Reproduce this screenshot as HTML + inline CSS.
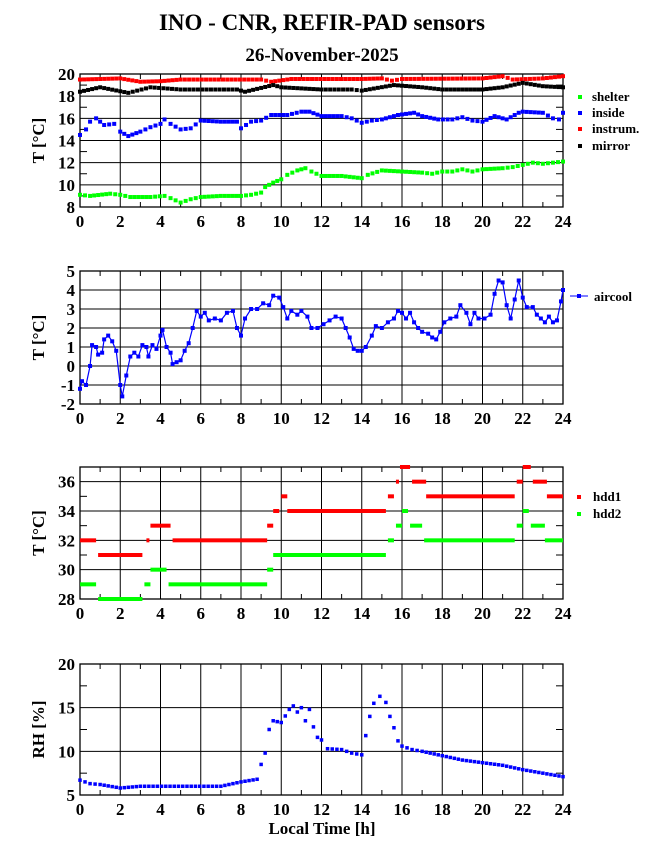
<!DOCTYPE html><html><head><meta charset="utf-8"><style>body{margin:0;background:#fff}svg text{font-family:"Liberation Serif","DejaVu Serif",serif;font-weight:bold}</style></head><body>
<svg id="s" width="655" height="860" xmlns="http://www.w3.org/2000/svg">
<text x="322" y="30" font-size="23" text-anchor="middle">INO - CNR, REFIR-PAD sensors</text>
<text x="322" y="61" font-size="19" text-anchor="middle">26-November-2025</text>
</svg>
<script>
const S=document.getElementById('s');let h='';
const X0=80,X1=563,xs=t=>X0+(X1-X0)*t/24;
function panel(top,bot,ymin,ymax,step,minor,ylab,labx){
 const ys=v=>bot-(bot-top)*(v-ymin)/(ymax-ymin);
 for(let t=0;t<=24;t+=2)h+=`<line x1="${xs(t)}" y1="${top}" x2="${xs(t)}" y2="${bot}" stroke="#000" stroke-width="1"/>`;
 for(let t=1;t<24;t+=2)h+=`<line x1="${xs(t)}" y1="${bot}" x2="${xs(t)}" y2="${bot-5}" stroke="#000"/><line x1="${xs(t)}" y1="${top}" x2="${xs(t)}" y2="${top+5}" stroke="#000"/>`;
 for(let v=ymin;v<=ymax+1e-9;v+=step){h+=`<line x1="${X0}" y1="${ys(v)}" x2="${X1}" y2="${ys(v)}" stroke="#000"/><text x="${X0-5}" y="${ys(v)+6}" font-size="17" text-anchor="end">${v}</text>`;}
 if(minor)for(let v=ymin+minor;v<ymax;v+=step)h+=`<line x1="${X0}" y1="${ys(v)}" x2="${X0+7}" y2="${ys(v)}" stroke="#000"/><line x1="${X1-7}" y1="${ys(v)}" x2="${X1}" y2="${ys(v)}" stroke="#000"/>`;
 h+=`<rect x="${X0}" y="${top}" width="${X1-X0}" height="${bot-top}" fill="none" stroke="#000" stroke-width="1.3"/>`;
 for(let t=0;t<=24;t+=2)h+=`<text x="${xs(t)}" y="${bot+20}" font-size="17" text-anchor="middle">${t}</text>`;
 h+=`<text transform="translate(${labx},${(top+bot)/2}) rotate(-90)" font-size="17" text-anchor="middle">${ylab}</text>`;
 return ys;
}
function interp(p,step){const o=[];for(let i=0;i<p.length-1;i++){const[a,b]=[p[i],p[i+1]];const n=Math.max(1,Math.round((b[0]-a[0])/step));for(let k=0;k<n;k++){const f=k/n;o.push([a[0]+(b[0]-a[0])*f,a[1]+(b[1]-a[1])*f]);}}o.push(p[p.length-1]);return o;}
function dots(p,ys,c,sz){p.forEach(q=>h+=`<rect x="${xs(q[0])-sz/2}" y="${ys(q[1])-sz/2}" width="${sz}" height="${sz}" fill="${c}"/>`);}
const ST=0.21;
// panel 1
let y1=panel(74,207,8,20,2,1,'T [°C]',44);
dots(interp([[0,19.5],[2,19.6],[3,19.3],[4,19.35],[5,19.5],[9,19.5],[9.5,19.3],[10.5,19.55],[14,19.55],[15,19.6],[15.5,19.4],[16,19.55],[20,19.6],[21,19.8],[21.5,19.5],[23,19.6],[24,19.8]],ST),y1,'#f00',4);
dots(interp([[0,18.4],[1,18.8],[2.4,18.3],[3.5,18.8],[5,18.6],[7.8,18.6],[8.2,18.4],[9.6,19.0],[10,18.8],[12,18.6],[13.5,18.6],[14,18.5],[15.6,19.0],[17,18.8],[18,18.6],[20,18.6],[21,18.8],[22,19.2],[23,18.9],[24,18.8]],ST),y1,'#000',4);
dots(interp([[0,14.5],[0.3,15.0],[0.5,15.7],[0.8,16.0],[1.2,15.4],[1.7,15.5],[2,14.8],[2.4,14.4],[3,14.8],[3.5,15.2],[4,15.5],[4.2,15.9],[4.5,15.5],[5,15.0],[5.5,15.1],[6,15.8],[7,15.7],[7.8,15.7],[8,15.1],[8.5,15.7],[9,15.8],[9.5,16.3],[10.3,16.3],[11,16.6],[11.4,16.6],[12,16.2],[13,16.2],[13.5,16.0],[14,15.6],[14.5,15.8],[15,15.9],[15.8,16.3],[16.6,16.5],[17,16.2],[17.8,15.9],[18.5,15.9],[19,16.1],[19.5,15.8],[20,15.7],[20.6,16.2],[21.2,15.9],[21.8,16.5],[22,16.6],[23,16.5],[23.5,16.0],[23.8,15.9],[24,16.5]],ST),y1,'#00f',4);
dots(interp([[0,9.1],[0.5,9.0],[1.5,9.2],[2,9.1],[2.5,8.9],[3.5,8.9],[4.2,9.0],[4.5,8.8],[5,8.4],[5.5,8.7],[6,8.9],[7,9.0],[8,9.0],[8.5,9.1],[9,9.3],[9.2,9.8],[9.6,10.2],[10,10.5],[10.3,10.9],[10.8,11.3],[11.2,11.5],[11.5,11.2],[12,10.8],[13,10.8],[14,10.6],[14.3,10.9],[15,11.3],[16,11.2],[17,11.1],[17.5,11.0],[18,11.2],[18.5,11.2],[19,11.4],[19.5,11.2],[20,11.4],[21,11.5],[21.5,11.6],[22,11.8],[22.5,12.0],[23,11.9],[23.5,12.0],[24,12.1]],ST),y1,'#0f0',4);
[['shelter','#0f0',100],['inside','#00f',116],['instrum.','#f00',132],['mirror','#000',149]].forEach(l=>h+=`<rect x="578" y="${l[2]-5}" width="4" height="4" fill="${l[1]}"/><text x="592" y="${l[2]+1}" font-size="13">${l[0]}</text>`);
// panel 2
let y2=panel(271,404,-2,5,1,0,'T [°C]',44);
const ac=[[0,-1.2],[0.1,-0.8],[0.3,-1],[0.5,0],[0.6,1.1],[0.8,1.0],[0.9,0.6],[1.1,0.7],[1.2,1.4],[1.4,1.6],[1.6,1.3],[1.8,0.8],[2.0,-1.0],[2.1,-1.6],[2.3,-0.5],[2.5,0.5],[2.7,0.7],[2.9,0.5],[3.1,1.1],[3.3,1.0],[3.4,0.5],[3.6,1.1],[3.8,0.9],[4.0,1.6],[4.1,1.9],[4.3,1.0],[4.5,0.7],[4.6,0.1],[4.8,0.2],[5.0,0.3],[5.2,0.8],[5.4,1.2],[5.6,2.0],[5.8,2.9],[6.0,2.6],[6.2,2.8],[6.4,2.4],[6.7,2.5],[7.0,2.4],[7.3,2.8],[7.6,2.9],[7.8,2.0],[8.0,1.6],[8.2,2.5],[8.5,3.0],[8.8,3.0],[9.1,3.3],[9.4,3.2],[9.6,3.7],[9.9,3.6],[10.1,3.1],[10.3,2.5],[10.5,2.9],[10.8,2.7],[11.0,2.9],[11.3,2.6],[11.5,2.0],[11.8,2.0],[12.1,2.2],[12.4,2.4],[12.7,2.6],[13.0,2.5],[13.2,2.0],[13.4,1.5],[13.6,0.9],[13.8,0.8],[14.0,0.8],[14.2,1.0],[14.5,1.6],[14.7,2.1],[15.0,2.0],[15.3,2.3],[15.6,2.5],[15.8,2.9],[16.0,2.8],[16.2,2.5],[16.4,2.8],[16.6,2.3],[16.8,2.0],[17.0,1.8],[17.3,1.7],[17.5,1.5],[17.7,1.4],[17.9,1.8],[18.1,2.3],[18.4,2.5],[18.7,2.6],[18.9,3.2],[19.2,2.8],[19.4,2.2],[19.6,2.8],[19.8,2.5],[20.1,2.5],[20.4,2.7],[20.6,3.8],[20.8,4.5],[21.0,4.4],[21.2,3.2],[21.4,2.5],[21.6,3.5],[21.8,4.5],[22.0,3.6],[22.2,3.1],[22.5,3.1],[22.7,2.7],[22.9,2.5],[23.1,2.3],[23.3,2.6],[23.5,2.3],[23.7,2.4],[23.9,3.4],[24,4.0]];
h+=`<polyline fill="none" stroke="#00f" stroke-width="1.2" points="${ac.map(q=>xs(q[0])+','+y2(q[1])).join(' ')}"/>`;
dots(ac,y2,'#00f',4);
h+=`<line x1="570" y1="296" x2="588" y2="296" stroke="#00f"/><rect x="577" y="294" width="4" height="4" fill="#00f"/><text x="594" y="301" font-size="13">aircool</text>`;
// panel 3
let y3=panel(467,599,28,37,2,1,'T [°C]',44);
const seg=(a,c)=>a.forEach(s=>h+=`<rect x="${xs(s[0])}" y="${y3(s[2])-2}" width="${Math.max(3,xs(s[1])-xs(s[0]))}" height="4" fill="${c}"/>`);
seg([[0,0.8,32],[0.9,3.1,31],[3.3,3.4,32],[3.5,4.5,33],[4.6,9.3,32],[9.3,9.6,33],[9.6,9.9,34],[10.0,10.3,35],[10.3,15.2,34],[15.3,15.6,35],[15.7,15.8,36],[15.9,16.4,37],[16.5,17.2,36],[17.2,21.6,35],[21.7,22.0,36],[22.0,22.4,37],[22.5,23.2,36],[23.2,24,35]],'#f00');
seg([[0,0.8,29],[0.9,3.1,28],[3.2,3.5,29],[3.5,4.3,30],[4.4,9.3,29],[9.3,9.6,30],[9.6,15.2,31],[15.3,15.6,32],[15.7,16.0,33],[16.0,16.3,34],[16.4,17.0,33],[17.1,21.6,32],[21.7,22.0,33],[22.0,22.3,34],[22.4,23.1,33],[23.1,24,32]],'#0f0');
h+=`<rect x="577" y="495" width="4" height="4" fill="#f00"/><text x="593" y="501" font-size="13">hdd1</text><rect x="577" y="512" width="4" height="4" fill="#0f0"/><text x="593" y="518" font-size="13">hdd2</text>`;
// panel 4
let y4=panel(664,795,5,20,5,2.5,'RH [%]',44);
dots(interp([[0,6.7],[0.5,6.3],[1,6.2],[2,5.8],[3,6.0],[7,6.0],[8,6.5],[8.8,6.8],[9.0,8.5],[9.2,9.8],[9.4,12.5],[9.6,13.5],[10,13.3],[10.4,14.8],[10.6,15.2],[10.8,14.5],[11.0,15.0],[11.2,13.5],[11.4,14.8],[11.6,12.8],[11.8,11.6],[12.0,11.3],[12.3,10.3],[13,10.2],[13.5,9.8],[14,9.6],[14.2,11.8],[14.4,14.0],[14.6,15.5],[14.9,16.3],[15.2,15.6],[15.4,14.0],[15.6,12.7],[15.8,11.2],[16.0,10.6],[16.5,10.2],[17,10.0],[18,9.5],[19,9.0],[20,8.7],[21,8.4],[22,7.9],[23,7.5],[24,7.1]],ST),y4,'#00f',3.5);
h+=`<text x="322" y="834" font-size="17" text-anchor="middle">Local Time [h]</text>`;
S.insertAdjacentHTML('beforeend',h);
</script></body></html>
